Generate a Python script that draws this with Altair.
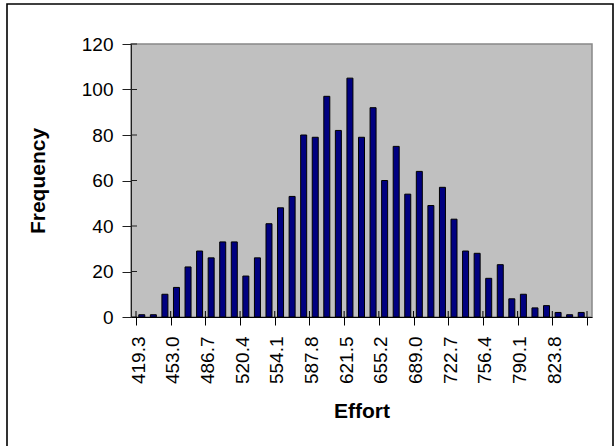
import altair as alt
import pandas as pd

# Frequency per bin (39 bins, bin width ~11.23)
counts = [1, 1, 10, 13, 22, 29, 26, 33, 33, 18, 26, 41, 48, 53, 80, 79, 97, 82, 105, 79,
          92, 60, 75, 54, 64, 49, 57, 43, 29, 28, 17, 23, 8, 10, 4, 5, 2, 1, 2]
# Category labels shown every third bin
tick_labels = ["419.3", "453.0", "486.7", "520.4", "554.1", "587.8", "621.5",
               "655.2", "689.0", "722.7", "756.4", "790.1", "823.8"]
y_ticks = [0, 20, 40, 60, 80, 100, 120]
x_ticks = list(range(0, len(counts) + 1, 3))

W, H = 461, 273

bars_df = pd.DataFrame({"bin": list(range(len(counts))), "freq": counts})
xt_df = pd.DataFrame({"bin": x_ticks})
yt_df = pd.DataFrame({"freq": y_ticks})

label_arr = "[" + ",".join("'%s'" % l for l in tick_labels) + "]"
label_expr = "datum.value < %d ? %s[datum.value / 3] : ''" % (len(counts), label_arr)

xscale = alt.Scale(domain=[0, len(counts)], nice=False, zero=False)
yscale = alt.Scale(domain=[0, 120], nice=False)

FONT = "Liberation Sans"

xaxis = alt.Axis(values=x_ticks, labelExpr=label_expr, labelAngle=-90,
                 labelAlign="right", labelBaseline="middle", labelOffset=2,
                 labelPadding=11, tickSize=8, grid=False, zindex=1,
                 domainColor="#000000", tickColor="#000000",
                 labelFont=FONT, labelFontSize=19, labelColor="#000000",
                 titleFont=FONT, titleFontSize=21, titleFontWeight="bold",
                 titleColor="#000000", titleX=W / 2, titleY=100,
                 titleBaseline="alphabetic", titleAlign="center")
yaxis = alt.Axis(values=y_ticks, tickSize=9, labelPadding=9, grid=False, zindex=1,
                 domainColor="#202020", tickColor="#202020",
                 labelFont=FONT, labelFontSize=19, labelColor="#000000",
                 titleFont=FONT, titleFontSize=21, titleFontWeight="bold",
                 titleColor="#000000", titleX=-87, titleY=H / 2,
                 titleAngle=-90, titleBaseline="alphabetic", titleAlign="center")

bars = alt.Chart(bars_df).transform_calculate(
    mid="datum.bin + 0.5"
).mark_bar(
    size=6, color="#000080", stroke="#000000", strokeWidth=1
).encode(
    x=alt.X("mid:Q", scale=xscale, title="Effort", axis=xaxis),
    y=alt.Y("freq:Q", scale=yscale, title="Frequency", axis=yaxis),
)

xin = alt.Chart(xt_df).mark_rule(color="#000000", strokeWidth=1).encode(
    x=alt.X("bin:Q", scale=xscale, title="Effort", axis=xaxis),
    y=alt.value(H - 6), y2=alt.value(H),
)

yin = alt.Chart(yt_df).mark_rule(color="#202020", strokeWidth=1).encode(
    y=alt.Y("freq:Q", scale=yscale, title="Frequency", axis=yaxis),
    x=alt.value(0), x2=alt.value(6),
)

frame = alt.Chart(bars_df.head(1)).mark_rect(
    filled=False, stroke="#000000", strokeWidth=1.6
).encode(
    x=alt.value(-124), x2=alt.value(482), y=alt.value(-40), y2=alt.value(430)
)

chart = alt.layer(bars, xin, yin, frame).properties(
    width=W, height=H,
    background="white",
    padding={"left": 131, "top": 44, "right": 615 - 131 - W, "bottom": 446 - 44 - H},
    autosize=alt.AutoSizeParams(type="none"),
).configure_view(
    fill="#C0C0C0", stroke="#888888", strokeWidth=1.5
)

chart.save("out.html", embed_options={"renderer": "svg", "actions": False})
